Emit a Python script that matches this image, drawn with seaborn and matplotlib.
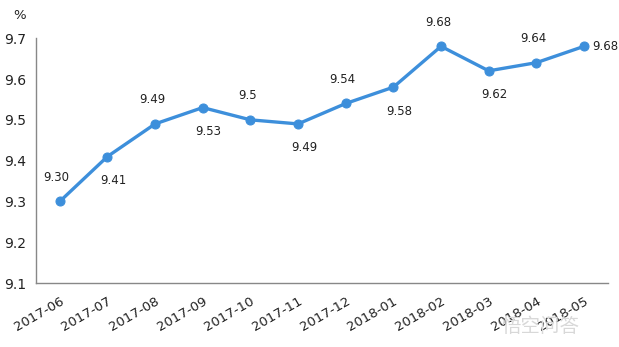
import matplotlib
matplotlib.use("Agg")
import matplotlib.pyplot as plt
import seaborn as sns
import pandas as pd

months = ["2017-06", "2017-07", "2017-08", "2017-09", "2017-10", "2017-11",
          "2017-12", "2018-01", "2018-02", "2018-03", "2018-04", "2018-05"]
rates = [9.30, 9.41, 9.49, 9.53, 9.50, 9.49, 9.54, 9.58, 9.68, 9.62, 9.64, 9.68]
value_labels = ["9.30", "9.41", "9.49", "9.53", "9.5", "9.49",
                "9.54", "9.58", "9.68", "9.62", "9.64", "9.68"]
label_side = ["up", "down", "up", "down", "up", "down",
              "up", "down", "up", "down", "up", "right"]
y_ticks = [9.1, 9.2, 9.3, 9.4, 9.5, 9.6, 9.7]

sns.set_style("white")
plt.rcParams["font.family"] = ["DejaVu Sans", "Noto Sans CJK SC"]

df = pd.DataFrame({"idx": range(len(months)), "rate": rates})

fig = plt.figure(figsize=(6.19, 3.47), dpi=100)
ax = fig.add_axes([0.058, 0.184, 0.924, 0.706])

blue = "#3d8fdb"
sns.lineplot(data=df, x="idx", y="rate", ax=ax, color=blue, linewidth=2.4,
             marker="o", markersize=6.5, markeredgecolor=blue, markerfacecolor=blue)

ax.set_xlim(-0.5, len(months) - 0.5)
ax.set_ylim(9.1, 9.7)
ax.set_yticks(y_ticks)
ax.set_yticklabels([f"{v:.1f}" for v in y_ticks], fontsize=10, color="#222222")

ax.set_xticks(range(len(months)))
ax.set_xticklabels(months, rotation=30, ha="right", rotation_mode="anchor",
                   fontsize=9.5, color="#222222")
ax.set_xticks([i - 0.5 for i in range(len(months) + 1)], minor=True)
ax.tick_params(axis="x", which="major", length=0, pad=8)
ax.tick_params(axis="x", which="minor", length=5, width=1, color="#888888", direction="out")
ax.tick_params(axis="y", which="major", length=5, width=1, color="#888888", direction="out", pad=2)
ax.set_xlabel("")
ax.set_ylabel("")

for s in ["top", "right"]:
    ax.spines[s].set_visible(False)
for s in ["left", "bottom"]:
    ax.spines[s].set_color("#888888")
    ax.spines[s].set_linewidth(1)

# (dx, dy, horizontal alignment) for each label placement
offsets = {"up": (-3, 24, "center"), "down": (6, -24, "center"), "right": (8, 0, "left")}
for i, (v, txt, side) in enumerate(zip(rates, value_labels, label_side)):
    dx, dy, ha = offsets[side]
    ax.annotate(txt, (i, v), xytext=(dx, dy), textcoords="offset pixels",
                ha=ha, va="center", fontsize=8.5, color="#222222",
                annotation_clip=False)

fig.text(0.022, 0.955, "%", fontsize=9.5, color="#222222", ha="left", va="center")
fig.text(0.81, 0.06, "悟空问答", fontsize=14, color="#d8d8d8", ha="left", va="center",
         family=["Noto Sans CJK SC", "DejaVu Sans"], zorder=0)

fig.savefig("out.png", dpi=100)
